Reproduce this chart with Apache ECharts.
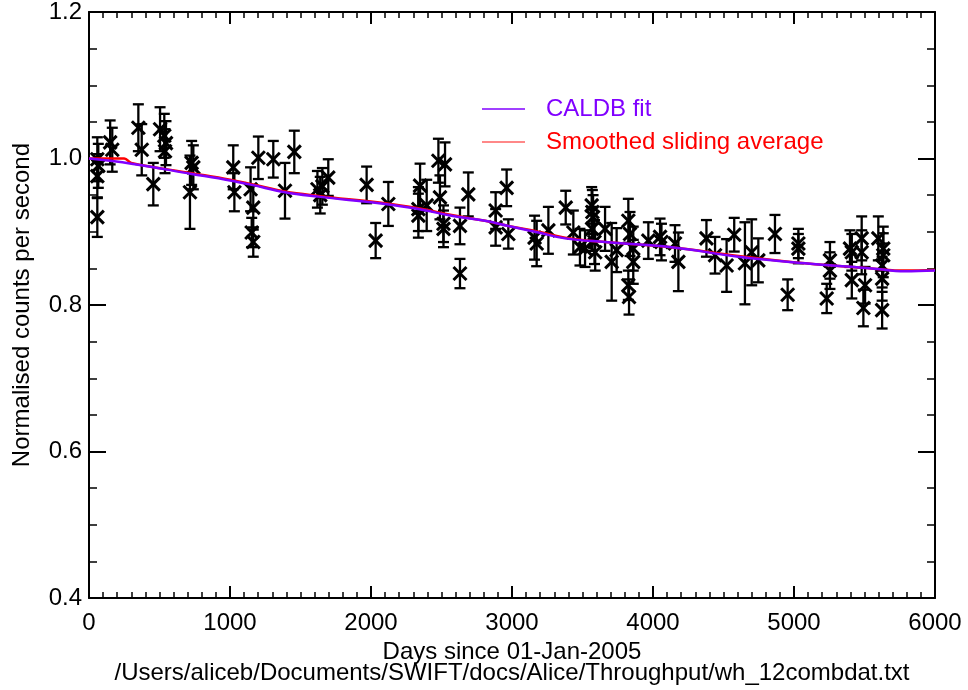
<!DOCTYPE html>
<html>
<head>
<meta charset="utf-8">
<script src="https://cdn.jsdelivr.net/npm/echarts@6/dist/echarts.min.js"></script>
<style>html,body{margin:0;padding:0;background:#fff}#c{width:968px;height:690px}</style>
</head>
<body>
<div id="c"></div>
<script>
// Measurements: [day, normalised count rate, 1-sigma error]
const points = [
[59,0.999,0.03],[66,0.990,0.03],[59,0.976,0.03],[59,0.920,0.027],
[150,1.022,0.03],[165,1.012,0.03],[350,1.042,0.032],[374,1.012,0.035],
[456,0.965,0.029],[504,1.040,0.03],[534,1.031,0.03],[546,1.021,0.03],
[539,1.010,0.03],[728,0.994,0.03],[740,0.988,0.03],[716,0.954,0.05],
[1023,0.988,0.03],[1031,0.954,0.026],[1146,0.958,0.03],[1165,0.933,0.03],
[1154,0.899,0.02],[1165,0.886,0.02],[1201,1.001,0.029],[1307,0.999,0.025],
[1456,1.009,0.029],[1390,0.956,0.038],[1620,0.958,0.025],[1640,0.950,0.025],
[1655,0.962,0.025],[1697,0.974,0.025],[1969,0.964,0.025],[2033,0.888,0.024],
[2123,0.938,0.03],[2348,0.963,0.03],[2336,0.931,0.03],[2336,0.922,0.03],
[2395,0.936,0.035],[2478,0.997,0.03],[2525,0.992,0.03],[2489,0.947,0.03],
[2514,0.911,0.025],[2514,0.904,0.025],[2631,0.908,0.025],[2631,0.843,0.02],
[2690,0.951,0.03],[2884,0.929,0.025],[2884,0.906,0.025],[2962,0.960,0.025],
[2974,0.897,0.02],[3175,0.884,0.031],[3160,0.892,0.03],[3258,0.902,0.032],
[3381,0.933,0.023],[3435,0.899,0.03],[3482,0.879,0.025],[3518,0.877,0.025],
[3565,0.936,0.025],[3570,0.927,0.03],[3575,0.920,0.03],[3568,0.904,0.03],
[3585,0.886,0.03],[3590,0.872,0.025],[3660,0.904,0.03],[3707,0.859,0.053],
[3742,0.875,0.03],[3825,0.915,0.03],[3837,0.897,0.03],[3825,0.827,0.02],
[3830,0.811,0.024],[3860,0.859,0.03],[3860,0.877,0.03],[3967,0.888,0.025],
[4050,0.893,0.025],[4060,0.886,0.025],[4156,0.884,0.025],[4180,0.859,0.04],
[4379,0.891,0.025],[4440,0.868,0.025],[4522,0.854,0.036],[4576,0.896,0.023],
[4652,0.857,0.056],[4700,0.872,0.045],[4747,0.861,0.03],[4865,0.897,0.026],
[4955,0.814,0.021],[5031,0.884,0.02],[5031,0.877,0.02],[5232,0.809,0.02],
[5255,0.861,0.025],[5255,0.847,0.025],[5397,0.877,0.025],[5410,0.872,0.025],
[5410,0.834,0.025],[5480,0.891,0.03],[5480,0.872,0.03],[5504,0.827,0.025],
[5492,0.796,0.025],[5598,0.891,0.03],[5633,0.877,0.03],[5633,0.868,0.03],
[5625,0.854,0.03],[5625,0.836,0.03],[5625,0.793,0.025]
];
// CALDB fit curve
const caldbFit = [
[0,1.000],[300,0.993],[728,0.979],[1000,0.970],[1154,0.964],[1390,0.954],[1626,0.948],
[2099,0.938],[2336,0.931],[2572,0.922],[2809,0.915],[2974,0.908],[3187,0.899],
[3376,0.891],[3660,0.886],[4132,0.879],[4605,0.866],[5078,0.857],[5551,0.850],
[5787,0.846],[6000,0.847]
];
// Smoothed sliding average
const slidingAvg = [
[0,1.000],[250,1.000],[300,0.994],[728,0.980],[1000,0.971],[1154,0.965],[1390,0.955],
[1626,0.949],[2099,0.939],[2336,0.932],[2572,0.923],[2809,0.915],[2974,0.908],
[3187,0.900],[3376,0.892],[3660,0.886],[4132,0.879],[4605,0.867],[5078,0.857],
[5551,0.850],[5787,0.847],[6000,0.848]
];
const xTicks = {min:0, max:6000, interval:1000};
const yTicks = {min:0.4, max:1.2, interval:0.2};

const FONT = 'Liberation Sans, Arial, Helvetica, sans-serif';
const FS = 24;
const PURPLE = '#8000ff';
const RED = '#ff0000';

const chart = echarts.init(document.getElementById('c'), null, {renderer:'canvas'});

function axisCommon(showLabel, isX){
  return {
    type:'value',
    min: isX ? xTicks.min : yTicks.min,
    max: isX ? xTicks.max : yTicks.max,
    interval: isX ? xTicks.interval : yTicks.interval,
    axisLine:{show:true, onZero:false, lineStyle:{color:'#000', width:2}},
    axisTick:{show:true, inside:true, length: isX ? 12 : 17, lineStyle:{color:'#000', width:2}},
    minorTick:{show:true, splitNumber: isX ? 10 : 4, length: isX ? 6 : 8, lineStyle:{color:'#000', width:1.5}},
    splitLine:{show:false},
    minorSplitLine:{show:false},
    axisLabel:{show:showLabel, color:'#000', fontFamily:FONT, fontSize:FS,
      margin: isX ? 13 : 7,
      formatter: isX ? (v => String(v)) : (v => v.toFixed(1))}
  };
}

const option = {
  animation:false,
  backgroundColor:'#fff',
  grid:{left:89, right:33, top:10, bottom:90, containLabel:false},
  legend:{
    orient:'vertical', left:477, top:92, itemGap:9,
    icon:'rect', itemWidth:43, itemHeight:1.5,
    textStyle:{fontFamily:FONT, fontSize:FS, padding:[0,0,0,16]},
    data:[
      {name:'CALDB fit', textStyle:{color:PURPLE}, itemStyle:{color:PURPLE}},
      {name:'Smoothed sliding average', textStyle:{color:RED}, itemStyle:{color:'#ff6060'}}
    ]
  },
  xAxis:[
    Object.assign(axisCommon(true,true), {position:'bottom',
      name:'Days since 01-Jan-2005\n/Users/aliceb/Documents/SWIFT/docs/Alice/Throughput/wh_12combdat.txt',
      nameLocation:'middle', nameGap:36,
      nameTextStyle:{color:'#000', fontFamily:FONT, fontSize:FS, lineHeight:21, verticalAlign:'top'}}),
    Object.assign(axisCommon(false,true), {position:'top'})
  ],
  yAxis:[
    Object.assign(axisCommon(true,false), {position:'left',
      name:'Normalised counts per second', nameLocation:'middle', nameGap:55,
      nameTextStyle:{color:'#000', fontFamily:FONT, fontSize:FS}}),
    Object.assign(axisCommon(false,false), {position:'right'})
  ],
  series:[
    {
      type:'custom', name:'data', xAxisIndex:0, yAxisIndex:0,
      data: points,
      encode:{x:0, y:1},
      renderItem:function(params, api){
        const x = api.value(0), y = api.value(1), e = api.value(2);
        const c = api.coord([x, y]);
        const lo = api.coord([x, y - e]);
        const hi = api.coord([x, y + e]);
        const cap = 5.5, m = 6.5;
        const st = {stroke:'#000', lineWidth:2.3, fill:null};
        return {type:'group', children:[
          {type:'line', shape:{x1:c[0], y1:lo[1], x2:c[0], y2:hi[1]}, style:st},
          {type:'line', shape:{x1:c[0]-cap, y1:lo[1], x2:c[0]+cap, y2:lo[1]}, style:st},
          {type:'line', shape:{x1:c[0]-cap, y1:hi[1], x2:c[0]+cap, y2:hi[1]}, style:st},
          {type:'line', shape:{x1:c[0]-m, y1:c[1]-m, x2:c[0]+m, y2:c[1]+m}, style:{stroke:'#000', lineWidth:3}},
          {type:'line', shape:{x1:c[0]-m, y1:c[1]+m, x2:c[0]+m, y2:c[1]-m}, style:{stroke:'#000', lineWidth:3}}
        ]};
      },
      z:2
    },
    {
      type:'line', name:'Smoothed sliding average', data:slidingAvg, smooth:0.4,
      showSymbol:false, lineStyle:{color:RED, width:2.5}, itemStyle:{color:'#ff6060'}, z:3
    },
    {
      type:'line', name:'CALDB fit', data:caldbFit, smooth:0.4,
      showSymbol:false, lineStyle:{color:PURPLE, width:2.5}, itemStyle:{color:PURPLE}, z:4
    }
  ]
};
chart.setOption(option);
</script>
</body>
</html>
